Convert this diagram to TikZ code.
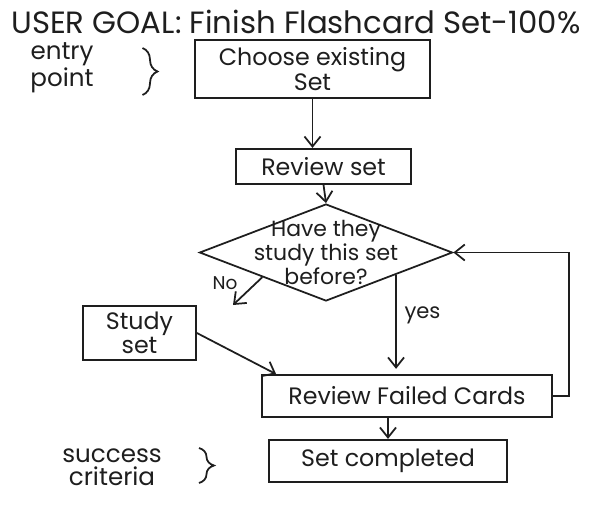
\documentclass[tikz,border=0pt]{standalone}
\usepackage{fontspec}
\setmainfont{Poppins}
\usepackage{tikz}
\usetikzlibrary{
  arrows.meta,
  positioning,
  calc,
  shapes.geometric,
  decorations.pathreplacing
}
\definecolor{inkBlack}{RGB}{30,30,30}
\tikzset{
  flowBox/.style={
    rectangle,
    draw=inkBlack,
    line width=1pt,
    align=center,
    text=inkBlack,
    font=\fontsize{13.5}{14}\selectfont
  },
  flowDecision/.style={
    diamond,
    draw=inkBlack,
    line width=1pt,
    aspect=2.6,
    inner xsep=-0.6cm,
    inner ysep=-0.35cm,
    minimum width=5.06cm,
    minimum height=1.94cm,
    align=center,
    text=inkBlack,
    font=\fontsize{12.5}{12.5}\selectfont
  },
  flowNote/.style={
    align=center,
    text=inkBlack,
    font=\fontsize{14}{13}\selectfont
  },
  flowArrow/.style={
    -{Straight Barb[length=2mm,width=3.2mm]},
    line width=1pt,
    draw=inkBlack
  },
  flowBrace/.style={
    decorate,
    decoration={brace,amplitude=0.3cm},
    line width=1pt,
    draw=inkBlack
  }
}

\begin{document}
\begin{tikzpicture}[node distance=1cm]
  \fill[white] (0,0) rectangle (12,-10.16);
  \useasboundingbox (0,0) rectangle (12,-10.16);

  \node[flowNote, font=\fontsize{17.5}{18}\selectfont] (goal) at (5.92,-0.44)
    {USER GOAL: Finish Flashcard Set-100\%};

  \node[flowNote] (entry) at (1.24,-1.36) {entry\\point};
  \draw[flowBrace] (2.85,-0.96) -- (2.85,-1.9);

  \node[flowBox, minimum width=4.7cm, minimum height=1.16cm]
    at (6.25,-1.38) (choose) {Choose existing\\Set};

  \node[flowBox, minimum width=3.5cm, minimum height=0.7cm,
    below=0.98cm of choose, xshift=0.22cm]
    (review) {Review set};

  \node[flowDecision, below=0.37cm of review, xshift=0.05cm]
    (decision) {Have they\\study this set\\before?};

  \node[flowBox, minimum width=2.26cm, minimum height=1cm]
    at (2.79,-6.66) (study) {Study\\set};

  \node[flowBox, minimum width=5.8cm, minimum height=0.84cm]
    at (8.14,-7.92) (failed) {Review Failed Cards};

  \node[flowBox, minimum width=4.76cm, minimum height=0.84cm,
    below=0.42cm of failed, xshift=-0.38cm]
    (completed) {Set completed};

  \node[flowNote] (success) at (2.24,-9.34) {success\\criteria};
  \draw[flowBrace] (3.98,-8.96) -- (3.98,-9.66);

  % decision branches
  \coordinate (noEnd) at (4.66,-6.1);
  \coordinate (yesStart) at ($(decision.south)!0.55!(decision.east)$);
  \node[flowNote, font=\fontsize{10.5}{11}\selectfont] (noLabel) at (4.5,-5.66) {No};
  \node[flowNote, font=\fontsize{12}{12}\selectfont] (yesLabel) at (8.45,-6.3) {yes};

  \draw[flowArrow] (choose.south) -- (choose.south |- review.north);
  \draw[flowArrow] (review.south) -- (decision.north);
  \draw[flowArrow] (decision.south west) -- (noEnd);
  \draw[flowArrow, shorten >=3pt] (yesStart) -- (yesStart |- failed.north);
  \draw[flowArrow] (study.east) -- ([xshift=0.3cm]failed.north west);
  \draw[flowArrow] (failed.east) -- ++(0.32,0) |- (decision.east);
  \draw[flowArrow] (completed.north |- failed.south) -- (completed.north);
\end{tikzpicture}
\end{document}
